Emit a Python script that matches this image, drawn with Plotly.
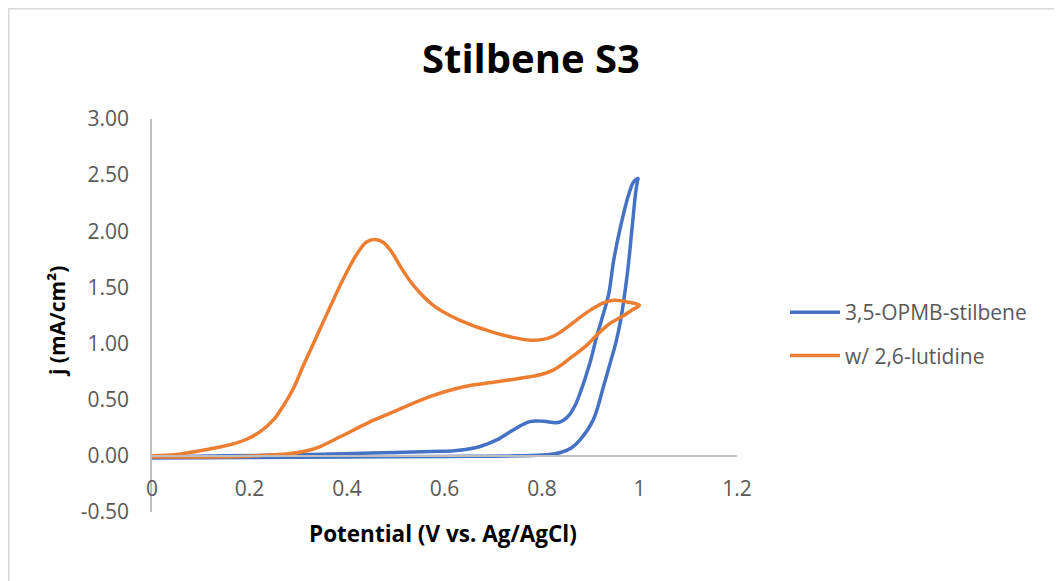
import plotly.graph_objects as go

# 3,5-OPMB-stilbene (closed CV loop)
blue_x = [0.0, 0.2, 0.4, 0.6, 0.75, 0.81, 0.838, 0.86, 0.878, 0.905, 0.926, 0.94, 0.951,
          0.961, 0.975, 0.985, 0.992, 0.996, 0.997, 0.988, 0.978, 0.961, 0.947, 0.937, 0.922,
          0.912, 0.898, 0.878, 0.868, 0.857, 0.845, 0.83, 0.803, 0.775, 0.741, 0.707, 0.673,
          0.625, 0.59, 0.45, 0.3, 0.15, 0.0]
blue_y = [-0.02, -0.015, -0.01, -0.005, 0.0, 0.01, 0.03, 0.07, 0.142, 0.32, 0.615, 0.83, 1.0,
          1.2, 1.62, 2.04, 2.34, 2.45, 2.47, 2.44, 2.33, 2.04, 1.74, 1.445, 1.208,
          1.06, 0.823, 0.557, 0.45, 0.37, 0.32, 0.295, 0.308, 0.305, 0.231, 0.142, 0.083,
          0.047, 0.04, 0.025, 0.01, 0.0, -0.01]

# w/ 2,6-lutidine (closed CV loop)
orange_x = [0.0, 0.05, 0.126, 0.167, 0.194, 0.222, 0.249, 0.27, 0.29, 0.31, 0.33, 0.352, 0.37,
            0.386, 0.40, 0.415, 0.427, 0.44, 0.457, 0.474, 0.492, 0.509, 0.529, 0.55, 0.577,
            0.611, 0.652, 0.70, 0.74, 0.775, 0.80, 0.825, 0.85, 0.874, 0.9, 0.925, 0.947,
            0.975, 1.0, 0.985, 0.968, 0.939, 0.919, 0.892, 0.875, 0.857, 0.84, 0.823, 0.80,
            0.775, 0.707, 0.639, 0.57, 0.489, 0.441, 0.386, 0.345, 0.318, 0.28, 0.249, 0.181,
            0.1, 0.0]
orange_y = [0.0, 0.012, 0.068, 0.107, 0.148, 0.216, 0.32, 0.45, 0.60, 0.80, 0.99, 1.20, 1.37,
            1.52, 1.64, 1.76, 1.84, 1.905, 1.927, 1.903, 1.814, 1.69, 1.56, 1.45, 1.34,
            1.25, 1.17, 1.10, 1.055, 1.03, 1.035, 1.07, 1.14, 1.22, 1.30, 1.36, 1.385,
            1.37, 1.34, 1.30, 1.25, 1.178, 1.104, 0.986, 0.925, 0.868, 0.81, 0.764, 0.727,
            0.704, 0.66, 0.615, 0.527, 0.38, 0.29, 0.17, 0.083, 0.045, 0.018, 0.009, -0.006,
            -0.01, -0.01]

x_ticks = [0, 0.2, 0.4, 0.6, 0.8, 1, 1.2]
x_tick_text = ["0", "0.2", "0.4", "0.6", "0.8", "1", "1.2"]
y_ticks = [-0.5, 0.0, 0.5, 1.0, 1.5, 2.0, 2.5, 3.0]
y_tick_text = ["-0.50", "0.00", "0.50", "1.00", "1.50", "2.00", "2.50", "3.00"]

FONT = "Open Sans"
GRAY = "#595959"

# Target plot-area position on the page (page is offset by 8px body margin)
OFF = 8
PL, PR, PT, PB = 152, 737, 119, 512
W, H = 1062, 581
plot_w = PR - PL
plot_h = PB - PT


def px(xp):
    return (xp - PL) / plot_w


def py(yp):
    return (PB - yp) / plot_h


fig = go.Figure()
fig.add_trace(go.Scatter(x=blue_x, y=blue_y, mode="lines", name="3,5-OPMB-stilbene",
                         legendgroup="a",
                         line=dict(color="#4472C4", width=3.5, shape="spline", smoothing=1.0,
                                   simplify=False)))
fig.add_trace(go.Scatter(x=orange_x, y=orange_y, mode="lines", name="w/ 2,6-lutidine",
                         legendgroup="b",
                         line=dict(color="#ED7D31", width=3.5, shape="spline", smoothing=1.0,
                                   simplify=False)))

fig.update_layout(
    width=W, height=H,
    margin=dict(l=PL - OFF, r=W - PR + OFF, t=PT - OFF, b=H - PB + OFF),
    paper_bgcolor="white", plot_bgcolor="white",
    font=dict(family=FONT, color=GRAY, size=21),
    showlegend=True,
    legend=dict(x=px(785), y=py(334), xanchor="left", yanchor="middle",
                font=dict(family=FONT, size=21, color=GRAY),
                itemwidth=50,
                tracegroupgap=13, traceorder="grouped"),
    xaxis=dict(range=[0, 1.2], tickvals=x_ticks, ticktext=x_tick_text,
               showgrid=False, zeroline=False, showline=True, linecolor="#BFBFBF",
               linewidth=1.5, anchor="free", position=0.5 / 3.5, ticks="",
               ticklabelstandoff=14, tickfont=dict(size=21, color=GRAY)),
    yaxis=dict(range=[-0.5, 3.0], tickvals=y_ticks, ticktext=y_tick_text,
               showgrid=False, zeroline=False, showline=True, linecolor="#BFBFBF",
               linewidth=1.5, ticks="", ticklabelstandoff=17,
               tickfont=dict(size=21, color=GRAY)),
    annotations=[
        dict(text="<b>Stilbene S3</b>", x=px(531), xref="paper", y=py(57), yref="paper",
             xanchor="center", yanchor="middle",
             showarrow=False, font=dict(size=40, color="#000000", family=FONT)),
        dict(text="<b>Potential (V vs. Ag/AgCl)</b>", x=px(443), xref="paper", y=py(533),
             yref="paper", xanchor="center", yanchor="middle", showarrow=False,
             font=dict(size=22.5, color="#000000", family=FONT)),
        dict(text="<b>j (mA/cm²)</b>", x=px(57), xref="paper", y=py(322), yref="paper",
             xanchor="center", yanchor="middle",
             textangle=-90, showarrow=False, font=dict(size=21, color="#000000", family=FONT)),
    ],
)

# Chart-area border
fig.add_shape(type="rect", xref="paper", yref="paper",
              x0=px(OFF + 0.75), x1=px(1060),
              y0=py(600), y1=py(OFF + 0.75),
              line=dict(color="#D9D9D9", width=1.5), fillcolor="rgba(0,0,0,0)", layer="below")

fig.write_html("out.html")
